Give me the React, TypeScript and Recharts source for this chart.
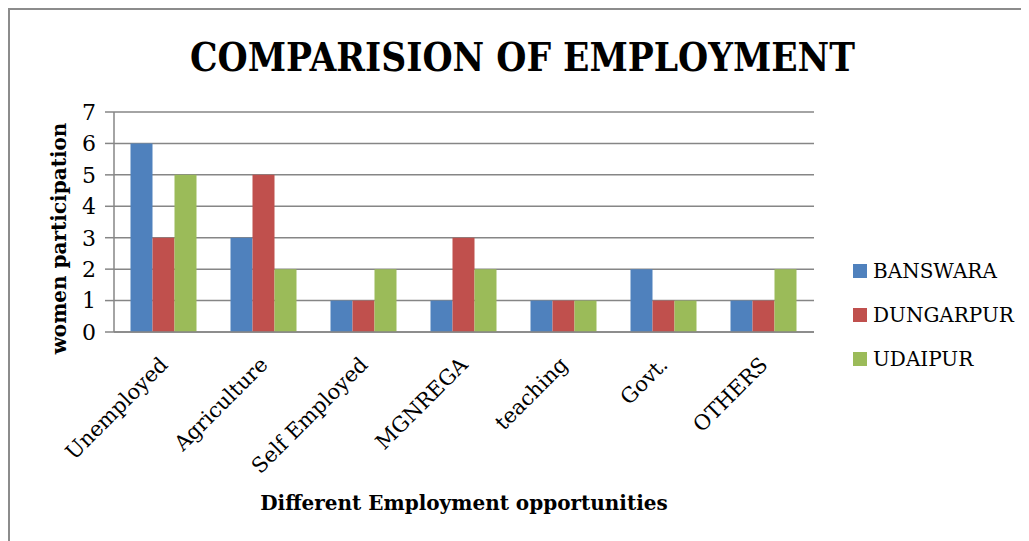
import React from "react";
import { BarChart, Bar, XAxis, YAxis, CartesianGrid, Legend, Customized } from "recharts";

const categories = ["Unemployed", "Agriculture", "Self Employed", "MGNREGA", "teaching", "Govt.", "OTHERS"];
const banswara = [6, 3, 1, 1, 1, 2, 1];
const dungarpur = [3, 5, 1, 3, 1, 1, 1];
const udaipur = [5, 2, 2, 2, 1, 1, 2];
const yTicks = [0, 1, 2, 3, 4, 5, 6, 7];
const seriesNames = ["BANSWARA", "DUNGARPUR", "UDAIPUR"];
const seriesColors = ["#4F81BD", "#C0504D", "#9BBB59"];

const data = categories.map((c, i) => ({
  name: c,
  BANSWARA: banswara[i],
  DUNGARPUR: dungarpur[i],
  UDAIPUR: udaipur[i],
}));

const SERIF = "'DejaVu Serif', 'Liberation Serif', serif";

const XTick = (props: any) => {
  const { x, y, payload } = props;
  const ax = x + 5;
  const ay = y + 34;
  return (
    <text
      x={ax}
      y={ay}
      transform={`rotate(-45, ${ax}, ${ay})`}
      textAnchor="end"
      fontFamily={SERIF}
      fontSize={21}
      fill="#000"
    >
      {payload.value}
    </text>
  );
};

const LegendContent = () => (
  <div style={{ fontFamily: SERIF, fontSize: 20, color: "#000" }}>
    {seriesNames.map((n, i) => (
      <div key={n} style={{ display: "flex", alignItems: "center", height: 44 }}>
        <span style={{ display: "inline-block", width: 14, height: 14, background: seriesColors[i], marginRight: 6 }} />
        <span>{n}</span>
      </div>
    ))}
  </div>
);

const Title = () => (
  <text
    x={514.5}
    y={63}
    textAnchor="middle"
    fontFamily={SERIF}
    fontWeight="bold"
    fontSize={40}
    textLength={665}
    lengthAdjust="spacingAndGlyphs"
    fill="#000"
  >
    COMPARISION OF EMPLOYMENT
  </text>
);

export default function App() {
  return (
    <div style={{ position: "relative", width: 1021, height: 533, overflow: "hidden" }}>
      <div
        style={{
          position: "absolute",
          left: 0,
          top: 0,
          width: 1100,
          height: 600,
          borderLeft: "2px solid #8c8c8c",
          borderTop: "2px solid #8c8c8c",
          boxSizing: "border-box",
          pointerEvents: "none",
        }}
      />
      <BarChart
        width={1021}
        height={533}
        data={data}
        margin={{ top: 104, right: 215, bottom: 0, left: 0 }}
        barCategoryGap="16.5%"
        barGap={0}
      >
        <CartesianGrid vertical={false} stroke="#868686" strokeWidth={1.5} />
        <XAxis
          dataKey="name"
          height={209}
          tickLine={false}
          tickSize={0}
          tickMargin={0}
          interval={0}
          tick={<XTick />}
          axisLine={{ stroke: "#868686", strokeWidth: 1.5 }}
          label={{
            content: (p: any) => {
              const vb = p.viewBox;
              return (
                <text
                  x={vb.x + vb.width / 2}
                  y={vb.y + 178}
                  textAnchor="middle"
                  fontFamily={SERIF}
                  fontWeight="bold"
                  fontSize={20}
                  fill="#000"
                >
                  Different Employment opportunities
                </text>
              );
            },
          }}
        />
        <YAxis
          width={106}
          domain={[0, 7]}
          ticks={yTicks}
          interval={0}
          tickSize={9}
          tickMargin={9}
          tickLine={{ stroke: "#868686", strokeWidth: 1.5 }}
          axisLine={{ stroke: "#868686", strokeWidth: 1.5 }}
          tick={{ fontFamily: SERIF, fontSize: 22, fill: "#000" }}
          label={{
            content: (p: any) => {
              const vb = p.viewBox;
              const lx = 58;
              const ly = vb.y + vb.height / 2 + 16.5;
              return (
                <text
                  x={lx}
                  y={ly}
                  transform={`rotate(-90, ${lx}, ${ly})`}
                  textAnchor="middle"
                  fontFamily={SERIF}
                  fontWeight="bold"
                  fontSize={20}
                  fill="#000"
                >
                  women participation
                </text>
              );
            },
          }}
        />
        <Legend
          layout="vertical"
          align="center"
          verticalAlign="middle"
          content={<LegendContent />}
          wrapperStyle={{ position: "absolute", left: 845, top: 241, width: 176 }}
        />
        {seriesNames.map((n, i) => (
          <Bar key={n} dataKey={n} fill={seriesColors[i]} isAnimationActive={false} />
        ))}
        <Customized component={Title} />
      </BarChart>
    </div>
  );
}
